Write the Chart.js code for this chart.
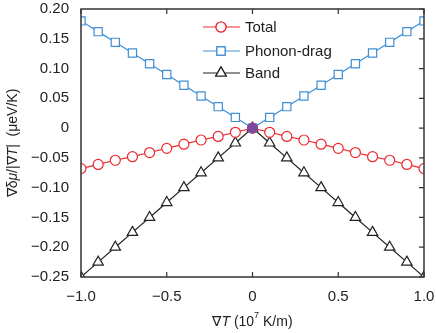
<!DOCTYPE html>
<html>
<head>
<meta charset="utf-8">
<script src="https://cdn.jsdelivr.net/npm/chart.js@4"></script>
<style>
  html, body { margin: 0; padding: 0; background: #fff; }
  #wrap { width: 436px; height: 333px; }
</style>
</head>
<body>
<div id="wrap"><canvas id="grafico" width="436" height="333"></canvas></div>
<script>
// valores
const gradT = [-1.0, -0.9, -0.8, -0.7, -0.6, -0.5, -0.4, -0.3, -0.2, -0.1, 0, 0.1, 0.2, 0.3, 0.4, 0.5, 0.6, 0.7, 0.8, 0.9, 1.0];
const total = [-0.068, -0.061, -0.054, -0.048, -0.041, -0.034, -0.027, -0.020, -0.014, -0.007, 0, -0.007, -0.014, -0.020, -0.027, -0.034, -0.041, -0.048, -0.054, -0.061, -0.068];
const phononDrag = [0.180, 0.162, 0.144, 0.126, 0.108, 0.090, 0.072, 0.054, 0.036, 0.018, 0, 0.018, 0.036, 0.054, 0.072, 0.090, 0.108, 0.126, 0.144, 0.162, 0.180];
const band = [-0.250, -0.225, -0.200, -0.175, -0.150, -0.125, -0.100, -0.075, -0.050, -0.025, 0, -0.025, -0.050, -0.075, -0.100, -0.125, -0.150, -0.175, -0.200, -0.225, -0.250];
const seriesNames = ['Total', 'Phonon-drag', 'Band'];
const crossing = [{ x: 0, y: 0 }];

const FONT = '"Liberation Sans", Arial, sans-serif';
const RED = '#ec2a2e', BLUE = '#3f8fd6', BLACK = '#222222', PURPLE = '#7b4aa0';

function pts(ys) {
	return gradT.map((x, i) => ({ x: x, y: ys[i] }));
}
function minus(s) {
	return s.replace('-', '\u2212');
}

// ticks para dentro, moldura e legenda desenhadas a mao
const moldura = {
	id: 'moldura',
	afterDatasetsDraw(chart) {
		const ctx = chart.ctx;
		const a = chart.chartArea;
		const sx = chart.scales.x, sy = chart.scales.y;
		ctx.save();
		ctx.strokeStyle = '#333';
		ctx.lineWidth = 1.5;
		ctx.strokeRect(a.left, a.top, a.right - a.left, a.bottom - a.top);
		ctx.lineWidth = 1.2;
		ctx.beginPath();
		sx.ticks.forEach(t => {
			const px = sx.getPixelForValue(t.value);
			ctx.moveTo(px, a.bottom); ctx.lineTo(px, a.bottom - 5);
			ctx.moveTo(px, a.top); ctx.lineTo(px, a.top + 5);
		});
		sy.ticks.forEach(t => {
			const py = sy.getPixelForValue(t.value);
			ctx.moveTo(a.right, py); ctx.lineTo(a.right - 5, py);
		});
		ctx.stroke();

		// legenda
		const rows = [27, 51, 73];
		chart.data.datasets.slice(1).forEach((ds, i) => {
			const y = rows[i];
			ctx.strokeStyle = ds.borderColor;
			ctx.lineWidth = 1.2;
			ctx.beginPath();
			ctx.moveTo(203, y); ctx.lineTo(240, y);
			ctx.stroke();
			Chart.helpers.drawPoint(ctx, {
				pointStyle: ds.pointStyle, radius: ds.pointRadius, borderWidth: 1.2
			}, 221, y);
			ctx.fillStyle = '#fff';
			ctx.fill();
			ctx.stroke();
			ctx.fillStyle = '#222';
			ctx.font = '15px ' + FONT;
			ctx.textAlign = 'left';
			ctx.textBaseline = 'middle';
			ctx.fillText(ds.label, 245, y + 1);
		});

		// titulos dos eixos com partes em italico
		function parts(list, x, y) {
			let w = 0;
			list.forEach(p => { ctx.font = p[1]; w += ctx.measureText(p[0]).width; });
			let cx = x - w / 2;
			list.forEach(p => {
				ctx.font = p[1];
				ctx.fillText(p[0], cx, y + (p[2] || 0));
				cx += ctx.measureText(p[0]).width;
			});
		}
		ctx.fillStyle = '#222';
		ctx.textAlign = 'left';
		ctx.textBaseline = 'middle';
		const n = '14px ' + FONT, it = 'italic 14px ' + FONT, sup = '9px ' + FONT;
		parts([['\u2207', n], ['T', it], [' (10', n], ['7', sup, -6], [' K/m)', n]], (a.left + a.right) / 2, 322);
		ctx.translate(13, (a.top + a.bottom) / 2);
		ctx.rotate(-Math.PI / 2);
		parts([['\u2207\u03b4', n], ['\u03bc', it], ['/|\u2207', n], ['T', it], ['|  (\u03bceV/K)', n]], 0, 0);
		ctx.restore();
	}
};

const grafico = document.getElementById('grafico').getContext('2d');
const myChart = new Chart(grafico, {
	type: 'line',
	data: {
		datasets: [
			{
				label: 'cross', data: crossing, showLine: false,
				pointStyle: 'circle', pointRadius: 5, pointBackgroundColor: PURPLE, pointBorderColor: PURPLE
			},
			{
				label: seriesNames[0], data: pts(total), borderColor: RED, borderWidth: 1.2,
				pointStyle: 'circle', pointRadius: 5, pointBorderWidth: 1.2,
				pointBorderColor: RED, pointBackgroundColor: '#fff'
			},
			{
				label: seriesNames[1], data: pts(phononDrag), borderColor: BLUE, borderWidth: 1.2,
				pointStyle: 'rect', pointRadius: 5.8, pointBorderWidth: 1.2,
				pointBorderColor: BLUE, pointBackgroundColor: '#fff'
			},
			{
				label: seriesNames[2], data: pts(band), borderColor: BLACK, borderWidth: 1.2,
				pointStyle: 'triangle', pointRadius: 6, pointBorderWidth: 1.2,
				pointBorderColor: BLACK, pointBackgroundColor: '#fff'
			}
		]
	},
	options: {
		responsive: false,
		animation: false,
		events: [],
		layout: { autoPadding: false, padding: { top: 9, right: 12, left: 0, bottom: 0 } },
		plugins: { legend: { display: false }, tooltip: { enabled: false } },
		scales: {
			x: {
				type: 'linear', min: -1, max: 1,
				grid: { display: false, drawTicks: false },
				border: { display: false },
				afterFit(s) { s.height = 56; s.paddingLeft = 0; s.paddingRight = 0; },
				ticks: {
					stepSize: 0.5, padding: 11, color: '#222',
					font: { family: FONT, size: 15 },
					callback: v => v === 0 ? '0' : minus(v.toFixed(1))
				}
			},
			y: {
				min: -0.25, max: 0.20,
				grid: { display: false, drawTicks: false },
				border: { display: false },
				afterFit(s) { s.width = 81; s.paddingTop = 0; s.paddingBottom = 0; },
				ticks: {
					stepSize: 0.05, padding: 12, color: '#222',
					font: { family: FONT, size: 15 },
					callback: v => Math.abs(v) < 1e-9 ? '0' : minus(v.toFixed(2))
				}
			}
		}
	},
	plugins: [moldura]
});
</script>
</body>
</html>
